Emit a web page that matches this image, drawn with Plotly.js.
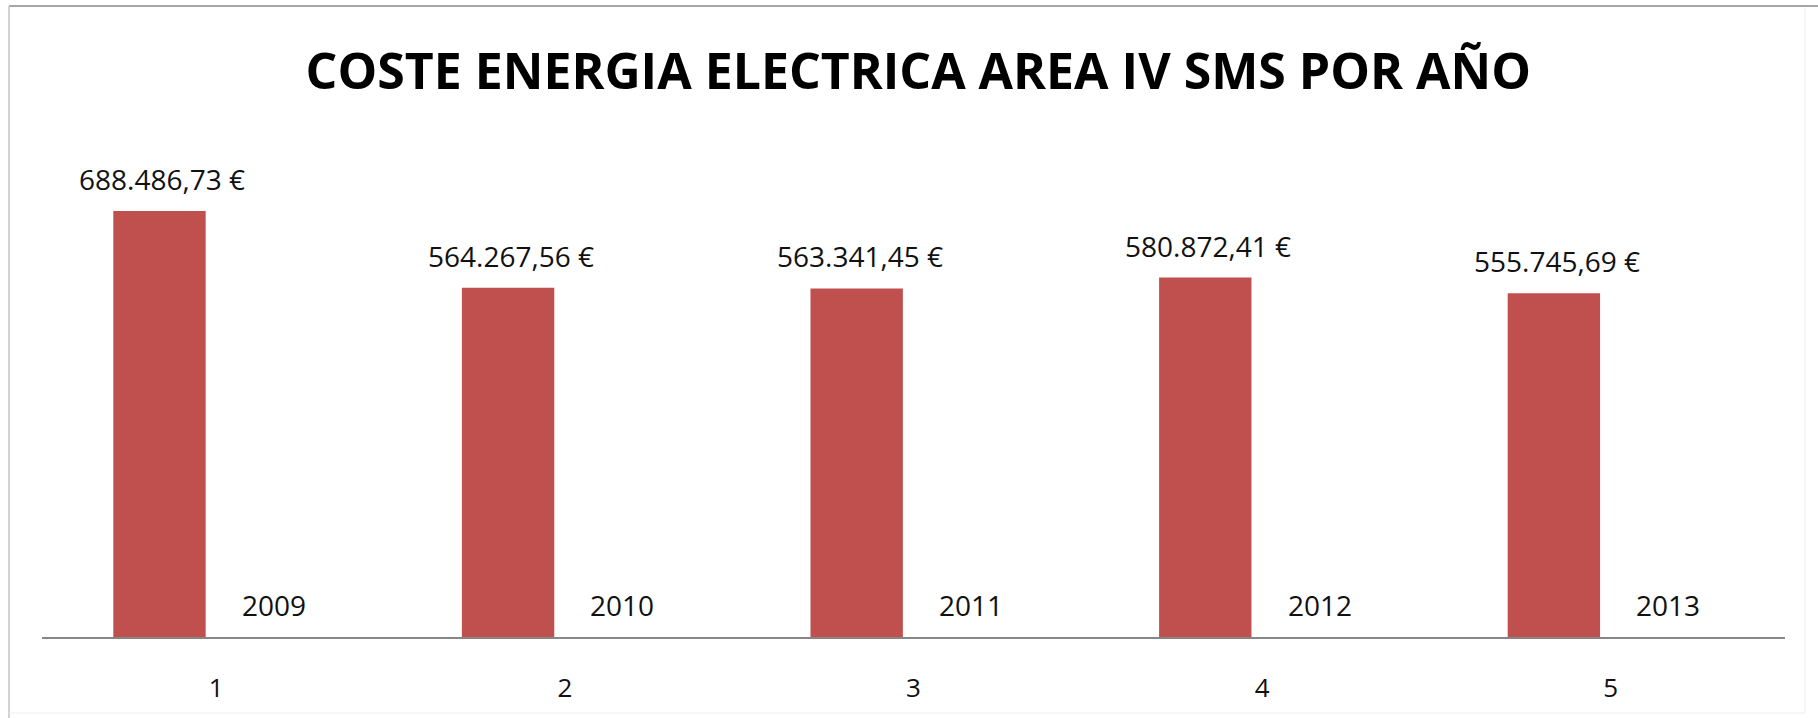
<!DOCTYPE html>
<html>
<head>
<meta charset="utf-8">
<script src="https://cdn.plot.ly/plotly-3.0.1.min.js"></script>
<style>html,body{margin:0;padding:0;background:#fff;}#chart{width:1818px;height:718px;}</style>
</head>
<body>
<div id="chart"></div>
<script>
// Data
const categories = ["1", "2", "3", "4", "5"];
const years = ["2009", "2010", "2011", "2012", "2013"];
const costs = [688486.73, 564267.56, 563341.45, 580872.41, 555745.69];
const titleText = "COSTE ENERGIA ELECTRICA AREA IV SMS POR AÑO";

function fmtEuro(v) {
  const parts = v.toFixed(2).split(".");
  const intPart = parts[0].replace(/\B(?=(\d{3})+(?!\d))/g, ".");
  return intPart + "," + parts[1] + " €";
}

// Plot area geometry (pixels)
const W = 1818, H = 718;
const L = 42, R = 1785, T = 142, B = 637;
const pw = R - L, ph = B - T;
const px2x = p => (p - L) / pw;
const py2y = p => (B - p) / ph;

const barColor = "#C0504D";
const textFont = {family: "Open Sans, sans-serif", size: 28, color: "#111"};

const trace = {
  type: "bar",
  x: categories,
  y: costs,
  width: 0.265,
  offset: -0.2955,
  marker: {color: barColor, line: {width: 0}},
  hoverinfo: "skip",
  showlegend: false
};

const annotations = [];
categories.forEach((c, i) => {
  // on a category axis, annotation x is the category index
  annotations.push({
    x: categories.indexOf(c), y: costs[i], xref: "x", yref: "y",
    text: fmtEuro(costs[i]),
    showarrow: false, xanchor: "center", yanchor: "middle",
    xshift: -54, yshift: 32,
    font: textFont
  });
  annotations.push({
    x: categories.indexOf(c), y: 0, xref: "x", yref: "y",
    text: years[i],
    showarrow: false, xanchor: "center", yanchor: "middle",
    xshift: 57.5, yshift: 32,
    font: textFont
  });
});

const shapes = [
  {type: "line", xref: "paper", yref: "paper", x0: px2x(9), x1: px2x(1818), y0: py2y(6), y1: py2y(6), line: {color: "#a6a6a6", width: 2}},
  {type: "line", xref: "paper", yref: "paper", x0: px2x(9), x1: px2x(9), y0: py2y(6), y1: py2y(718), line: {color: "#c4c4c4", width: 1.5}},
  {type: "line", xref: "paper", yref: "paper", x0: px2x(1805), x1: px2x(1805), y0: py2y(7), y1: py2y(713), line: {color: "#eeeeee", width: 1}},
  {type: "line", xref: "paper", yref: "paper", x0: px2x(9), x1: px2x(1805), y0: py2y(713), y1: py2y(713), line: {color: "#eeeeee", width: 1}}
];

const layout = {
  width: W, height: H,
  margin: {l: L, r: W - R, t: T, b: H - B, pad: 0},
  paper_bgcolor: "#fff",
  plot_bgcolor: "#fff",
  title: {
    text: titleText,
    x: 914 / W, xanchor: "center", xref: "paper",
    y: 1 - 71 / H, yanchor: "middle", yref: "container",
    font: {family: "Open Sans, sans-serif", size: 50, weight: 700, color: "#000"}
  },
  xaxis: {
    type: "category",
    categoryorder: "array", categoryarray: categories,
    range: [-0.5, 4.5],
    showline: true, linecolor: "#868686", linewidth: 2,
    showgrid: false, zeroline: false,
    ticks: "outside", ticklen: 27, tickcolor: "rgba(0,0,0,0)",
    tickfont: {family: "Open Sans, sans-serif", size: 26, color: "#111"},
    fixedrange: true
  },
  yaxis: {
    range: [0, 800000],
    visible: false,
    showgrid: false, zeroline: false,
    fixedrange: true
  },
  shapes: shapes,
  annotations: annotations,
  showlegend: false
};

Plotly.newPlot("chart", [trace], layout, {displayModeBar: false, staticPlot: true});
</script>
</body>
</html>
